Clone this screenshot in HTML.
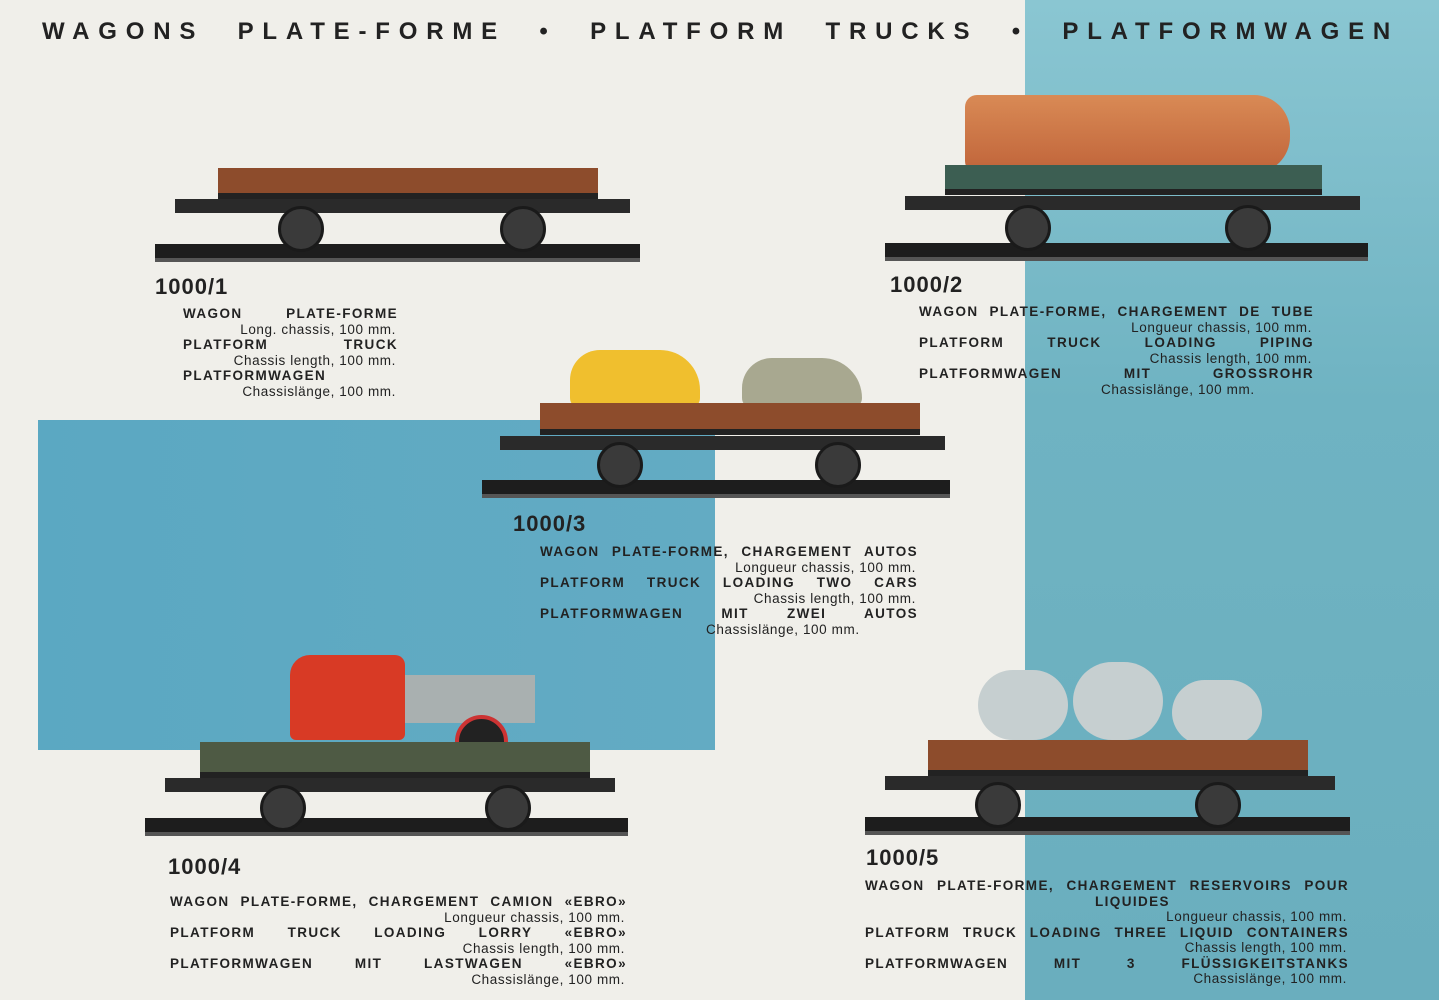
<!DOCTYPE html>
<html><head><meta charset="utf-8"><style>
body{margin:0;width:1439px;height:1000px;overflow:hidden;background:#f0efea;position:relative;font-family:"Liberation Sans",sans-serif;color:#222}
.a{position:absolute}
.blueR{left:1025px;top:0;width:414px;height:1000px;background:linear-gradient(#8ac6d2,#6fb3c2 40%,#6aaebe)}
.blueL{left:38px;top:420px;width:677px;height:330px;background:linear-gradient(90deg,#5ba8c2,#63abc3)}
.title{left:42px;top:18px;font-size:24px;font-weight:bold;letter-spacing:8.8px;word-spacing:18px;white-space:nowrap;color:#222}
.num{font-size:22px;font-weight:bold;letter-spacing:1px}
.blk{position:absolute;font-size:13.5px;line-height:15.5px}
.h{font-weight:bold;letter-spacing:1.4px;text-align:justify;text-align-last:justify;white-space:nowrap;height:15.5px}
.s{text-align:right;letter-spacing:0.6px;height:15.5px;padding-right:2px}
.rail{position:absolute;background:#1d1d1d;height:14px;border-bottom:4px solid #555}
.deck{position:absolute;border-bottom:6px solid #222}
.chs{position:absolute;background:#2a2a2a;height:14px}
.wh{position:absolute;width:40px;height:40px;border-radius:50%;background:#3a3a3a;border:3px solid #1a1a1a}
</style></head><body>
<div class="a blueR"></div>
<div class="a blueL"></div>
<div class="a title">WAGONS PLATE-FORME • PLATFORM TRUCKS • PLATFORMWAGEN</div>

<div class="rail" style="left:155px;top:244px;width:485px"></div>
<div class="deck" style="left:218px;top:168px;width:380px;height:25px;background:#8d4c2c"></div>
<div class="chs" style="left:175px;top:199px;width:455px"></div>
<div class="wh" style="left:278px;top:206px"></div><div class="wh" style="left:500px;top:206px"></div>

<div class="rail" style="left:885px;top:243px;width:483px"></div>
<div class="a" style="left:965px;top:95px;width:325px;height:78px;background:linear-gradient(#d98a55,#c0643a);border-radius:12px 36px 36px 12px"></div>
<div class="deck" style="left:945px;top:165px;width:377px;height:24px;background:#3c5e52"></div>
<div class="chs" style="left:905px;top:196px;width:455px"></div>
<div class="wh" style="left:1005px;top:205px"></div><div class="wh" style="left:1225px;top:205px"></div>

<div class="rail" style="left:482px;top:480px;width:468px"></div>
<div class="a" style="left:570px;top:350px;width:130px;height:58px;background:#f0bf2e;border-radius:30px 40px 10px 10px"></div>
<div class="a" style="left:742px;top:358px;width:120px;height:50px;background:#a8a890;border-radius:30px 40px 10px 10px"></div>
<div class="deck" style="left:540px;top:403px;width:380px;height:26px;background:#8d4c2c"></div>
<div class="chs" style="left:500px;top:436px;width:445px"></div>
<div class="wh" style="left:597px;top:442px"></div><div class="wh" style="left:815px;top:442px"></div>

<div class="rail" style="left:145px;top:818px;width:483px"></div>
<div class="a" style="left:400px;top:675px;width:135px;height:48px;background:#a9b0b0"></div>
<div class="a" style="left:290px;top:655px;width:115px;height:85px;background:#d83a25;border-radius:20px 10px 6px 6px"></div>
<div class="a" style="left:455px;top:715px;width:45px;height:45px;border-radius:50%;background:#222;border:4px solid #c33"></div>
<div class="deck" style="left:200px;top:742px;width:390px;height:30px;background:#4e5a44"></div>
<div class="chs" style="left:165px;top:778px;width:450px"></div>
<div class="wh" style="left:260px;top:785px"></div><div class="wh" style="left:485px;top:785px"></div>

<div class="rail" style="left:865px;top:817px;width:485px"></div>
<div class="a" style="left:978px;top:670px;width:90px;height:70px;background:#c6cfd0;border-radius:40px"></div>
<div class="a" style="left:1073px;top:662px;width:90px;height:78px;background:#c6cfd0;border-radius:40px"></div>
<div class="a" style="left:1172px;top:680px;width:90px;height:65px;background:#c6cfd0;border-radius:40px"></div>
<div class="deck" style="left:928px;top:740px;width:380px;height:30px;background:#8d4c2c"></div>
<div class="chs" style="left:885px;top:776px;width:450px"></div>
<div class="wh" style="left:975px;top:782px"></div><div class="wh" style="left:1195px;top:782px"></div>

<div class="a num" style="left:155px;top:274px">1000/1</div>
<div class="blk" style="left:183px;top:306px;width:215px">
<div class="h">WAGON PLATE-FORME</div><div class="s">Long. chassis, 100 mm.</div>
<div class="h">PLATFORM TRUCK</div><div class="s">Chassis length, 100 mm.</div>
<div class="h">PLATFORMWAGEN</div><div class="s">Chassislänge, 100 mm.</div></div>

<div class="a num" style="left:890px;top:272px">1000/2</div>
<div class="blk" style="left:919px;top:304px;width:395px">
<div class="h">WAGON PLATE-FORME, CHARGEMENT DE TUBE</div><div class="s">Longueur chassis, 100 mm.</div>
<div class="h">PLATFORM TRUCK LOADING PIPING</div><div class="s">Chassis length, 100 mm.</div>
<div class="h">PLATFORMWAGEN MIT GROSSROHR</div><div class="s" style="text-align:left;padding-left:182px">Chassislänge, 100 mm.</div></div>

<div class="a num" style="left:513px;top:511px">1000/3</div>
<div class="blk" style="left:540px;top:544px;width:378px">
<div class="h">WAGON PLATE-FORME, CHARGEMENT AUTOS</div><div class="s">Longueur chassis, 100 mm.</div>
<div class="h">PLATFORM TRUCK LOADING TWO CARS</div><div class="s">Chassis length, 100 mm.</div>
<div class="h">PLATFORMWAGEN MIT ZWEI AUTOS</div><div class="s" style="text-align:left;padding-left:166px">Chassislänge, 100 mm.</div></div>

<div class="a num" style="left:168px;top:854px">1000/4</div>
<div class="blk" style="left:170px;top:894px;width:457px">
<div class="h">WAGON PLATE-FORME, CHARGEMENT CAMION «EBRO»</div><div class="s">Longueur chassis, 100 mm.</div>
<div class="h">PLATFORM TRUCK LOADING LORRY «EBRO»</div><div class="s">Chassis length, 100 mm.</div>
<div class="h">PLATFORMWAGEN MIT LASTWAGEN «EBRO»</div><div class="s">Chassislänge, 100 mm.</div></div>

<div class="a num" style="left:866px;top:845px">1000/5</div>
<div class="blk" style="left:865px;top:878px;width:484px">
<div class="h">WAGON PLATE-FORME, CHARGEMENT RESERVOIRS POUR</div><div class="h" style="text-align:left;text-align-last:left;padding-left:230px">LIQUIDES</div><div class="s">Longueur chassis, 100 mm.</div>
<div class="h">PLATFORM TRUCK LOADING THREE LIQUID CONTAINERS</div><div class="s">Chassis length, 100 mm.</div>
<div class="h">PLATFORMWAGEN MIT 3 FLÜSSIGKEITSTANKS</div><div class="s">Chassislänge, 100 mm.</div></div>
</body></html>
